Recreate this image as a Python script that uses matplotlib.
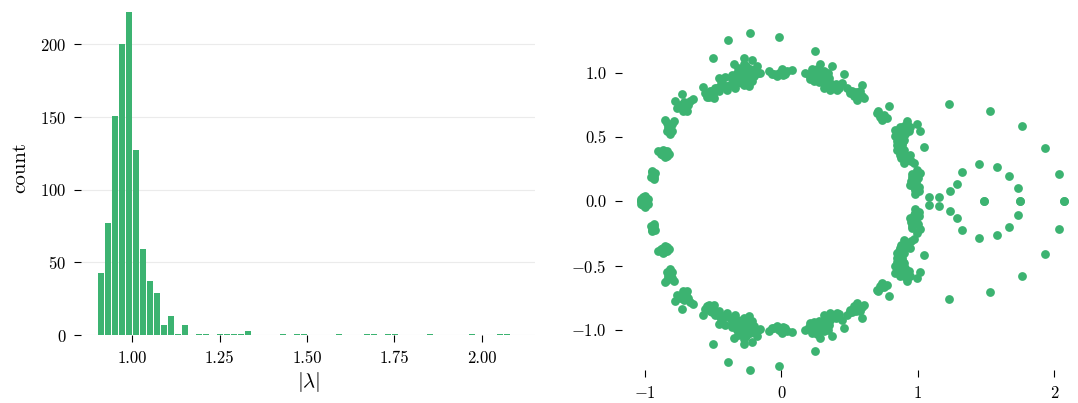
import numpy as np
import matplotlib
matplotlib.use('Agg')
import matplotlib.pyplot as plt

plt.rcParams['font.family'] = 'serif'
plt.rcParams['font.serif'] = ['cmr10']
plt.rcParams['mathtext.fontset'] = 'cm'
plt.rcParams['axes.formatter.use_mathtext'] = True

GREEN = '#3cb371'

# histogram of |lambda|: bins of width 0.02 starting at 0.903
bin_start = 0.903
bin_width = 0.02
counts = [43, 77, 151, 200, 222, 127, 59, 37, 29, 7, 13, 1, 7, 0, 1, 1, 0, 1, 1, 1,
          1, 3, 0, 0, 0, 0, 1, 0, 1, 1, 0, 0, 0, 0, 1, 0, 0, 0, 1, 1,
          0, 1, 1, 0, 0, 0, 0, 1, 0, 0, 0, 0, 0, 1, 0, 0, 0, 1, 1]

# eigenvalues, upper half plane (conjugates are added below)
re_upper = [
    -1.005, -1.02, -0.99, -1.0, -0.985, -1.025, -1.01, -0.995, -1.03, -0.975, -1.0,
    -0.94, -0.955, -0.925, -0.93, -0.95, -0.945, -0.935,
    -0.85, -0.865, -0.835, -0.84, -0.86, -0.904, -0.87, -0.85, -0.88, -0.825,
    -0.82, -0.85, -0.784, -0.83, -0.80, -0.81, -0.84, -0.815, -0.835, -0.80,
    -0.708, -0.777, -0.73, -0.65, -0.68, -0.74, -0.69, -0.765, -0.71, -0.695, -0.72, -0.67,
    -0.574, -0.545, -0.496, -0.459, -0.459, -0.41, -0.418, -0.52, -0.484, -0.435, -0.398,
    -0.56, -0.50, -0.47, -0.44, -0.53, -0.51, -0.45,
    -0.349, -0.276, -0.215, -0.325, -0.252, -0.19, -0.154, -0.337, -0.276, -0.215, -0.374,
    -0.3, -0.227, -0.361, -0.325, -0.264, -0.203, -0.288, -0.178, -0.398, -0.239,
    -0.31, -0.29, -0.25, -0.23, -0.35, -0.30, -0.26, -0.32, -0.21, -0.17, -0.36,
    -0.28, -0.24, -0.33, -0.22, -0.27,
    -0.093, -0.056, -0.007, -0.032, 0.029, 0.078, 0.005, 0.042, -0.07, 0.01, -0.02,
    0.176, 0.225, 0.286, 0.371, 0.261, 0.335, 0.408, 0.457, 0.445, 0.31, 0.212, 0.384,
    0.237, 0.298, 0.347, 0.273, 0.359, 0.31,
    0.20, 0.25, 0.28, 0.32, 0.33, 0.36, 0.40, 0.24, 0.22, 0.30, 0.42, 0.35,
    0.27, 0.34, 0.38, 0.26,
    0.505, 0.554, 0.591, 0.603, 0.53, 0.579, 0.481, 0.52, 0.56, 0.55, 0.59, 0.50,
    0.725, 0.774, 0.70, 0.737, 0.786, 0.72, 0.71, 0.75,
    0.921, 0.872, 0.86, 0.884, 0.921, 0.969, 0.896, 0.933, 0.835, 0.994, 0.847, 0.896,
    0.945, 0.884, 0.835, 0.994, 1.018, 1.043,
    0.88, 0.86, 0.87, 0.87, 0.90, 0.91, 0.93, 0.86, 0.85, 0.90, 0.95, 0.92, 0.88,
    0.85, 0.87, 0.89, 0.91, 0.87, 0.94, 0.90, 0.86,
    0.969, 1.006, 0.945, 1.018, 0.982, 0.957, 0.96, 0.99, 0.97, 1.0, 0.95,
    0.98, 1.01, 0.96,
    1.079, 1.153, 1.237,
    -0.227, -0.02, -0.393, -0.5, 0.247, 1.226,
    1.45, 1.577, 1.672, 1.731, 1.751, 1.321, 1.284, 1.487,
    1.526, 1.763, 1.932, 2.037, 2.068,
]
im_upper = [
    0.0, 0.015, 0.015, 0.03, 0.0, 0.0, 0.03, 0.035, 0.02, 0.02, 0.045,
    0.206, 0.19, 0.22, 0.19, 0.225, 0.235, 0.175,
    0.375, 0.36, 0.39, 0.355, 0.395, 0.388, 0.40, 0.345, 0.37, 0.37,
    0.5625, 0.63, 0.622, 0.58, 0.55, 0.59, 0.55, 0.525, 0.61, 0.60,
    0.734, 0.779, 0.839, 0.797, 0.753, 0.753, 0.70, 0.727, 0.77, 0.73, 0.70, 0.78,
    0.888, 0.8125, 0.805, 0.857, 0.956, 0.966, 0.896, 0.857, 0.883, 0.922, 0.87,
    0.84, 0.83, 0.88, 0.94, 0.81, 0.86, 0.90,
    1.065, 1.112, 1.099, 1.0, 1.0, 1.0, 0.995, 0.883, 0.909, 0.935, 0.909,
    0.948, 1.026, 0.948, 0.922, 0.961, 0.974, 1.026, 1.052, 0.896, 0.896,
    0.97, 0.92, 0.93, 0.97, 0.93, 1.0, 1.05, 1.04, 1.02, 1.0, 0.98,
    0.99, 0.96, 0.96, 0.95, 1.07,
    1.013, 0.987, 1.0, 0.974, 0.987, 1.021, 1.026, 1.013, 0.99, 0.98, 1.0,
    1.0, 1.026, 1.065, 1.052, 0.961, 0.909, 0.87, 0.987, 0.922, 1.013, 0.948, 0.896,
    0.987, 0.948, 0.961, 1.0, 0.87, 0.883,
    0.98, 0.97, 0.93, 0.94, 0.98, 0.92, 0.91, 0.94, 1.0, 0.97, 0.88, 0.89,
    0.95, 1.0, 0.90, 1.03,
    0.844, 0.792, 0.909, 0.805, 0.818, 0.857, 0.883, 0.86, 0.82, 0.85, 0.82, 0.86,
    0.674, 0.648, 0.688, 0.635, 0.74, 0.66, 0.70, 0.67,
    0.622, 0.531, 0.453, 0.375, 0.323, 0.297, 0.479, 0.544, 0.505, 0.245, 0.401, 0.583,
    0.362, 0.44, 0.557, 0.599, 0.549, 0.419,
    0.55, 0.52, 0.48, 0.42, 0.40, 0.35, 0.33, 0.50, 0.47, 0.56, 0.31, 0.60, 0.34,
    0.44, 0.36, 0.47, 0.52, 0.58, 0.58, 0.30, 0.39,
    0.167, 0.115, 0.128, 0.219, 0.089, 0.193, 0.14, 0.15, 0.11, 0.18, 0.16,
    0.06, 0.08, 0.21,
    0.03, 0.035, 0.078,
    1.313, 1.279, 1.253, 1.112, 1.167, 0.76,
    0.289, 0.265, 0.2, 0.107, 0.0, 0.226, 0.133, 0.0,
    0.705, 0.583, 0.414, 0.216, 0.0,
]

re_all = np.concatenate([re_upper, re_upper])
im_all = np.concatenate([im_upper, -np.array(im_upper)])

fig = plt.figure(figsize=(10.78, 4.03), dpi=100)
ax1 = fig.add_axes([0.0756, 0.1687, 0.4207, 0.8313])
ax2 = fig.add_axes([0.577, 0.0819, 0.423, 0.8372])

# left: histogram
left_edges = bin_start + bin_width * np.arange(len(counts))
ax1.bar(left_edges, counts, width=bin_width * 0.86, align='edge', color=GREEN,
        linewidth=0, zorder=2)
ax1.set_xlim(0.855, 2.152)
ax1.set_ylim(0, 230.5)
ax1.set_yticks([0, 50, 100, 150, 200])
ax1.set_xticks([1.0, 1.25, 1.5, 1.75, 2.0])
ax1.set_xticklabels(['1.00', '1.25', '1.50', '1.75', '2.00'])
ax1.yaxis.grid(True, color='#ebebeb', linewidth=0.8, zorder=0)
ax1.set_axisbelow(True)
ax1.set_xlabel(r'$|\lambda|$', fontsize=15, labelpad=3)
ax1.set_ylabel('count', fontsize=15, labelpad=8)

# right: eigenvalues in the complex plane
ax2.scatter(re_all, im_all, s=40, color=GREEN, linewidths=0, clip_on=False)
ax2.set_xlim(-1.167, 2.174)
ax2.set_ylim(-1.313, 1.313)
ax2.set_xticks([-1, 0, 1, 2])
ax2.set_yticks([-1.0, -0.5, 0.0, 0.5, 1.0])
ax2.set_yticklabels([r'$-1.0$', r'$-0.5$', '0.0', '0.5', '1.0'])
ax2.set_xticklabels([r'$-1$', '0', '1', '2'])

for ax in (ax1, ax2):
    for sp in ax.spines.values():
        sp.set_visible(False)
    ax.tick_params(direction='out', length=5, width=0.8, pad=6, labelsize=12)

fig.savefig('out.png', dpi=100)
